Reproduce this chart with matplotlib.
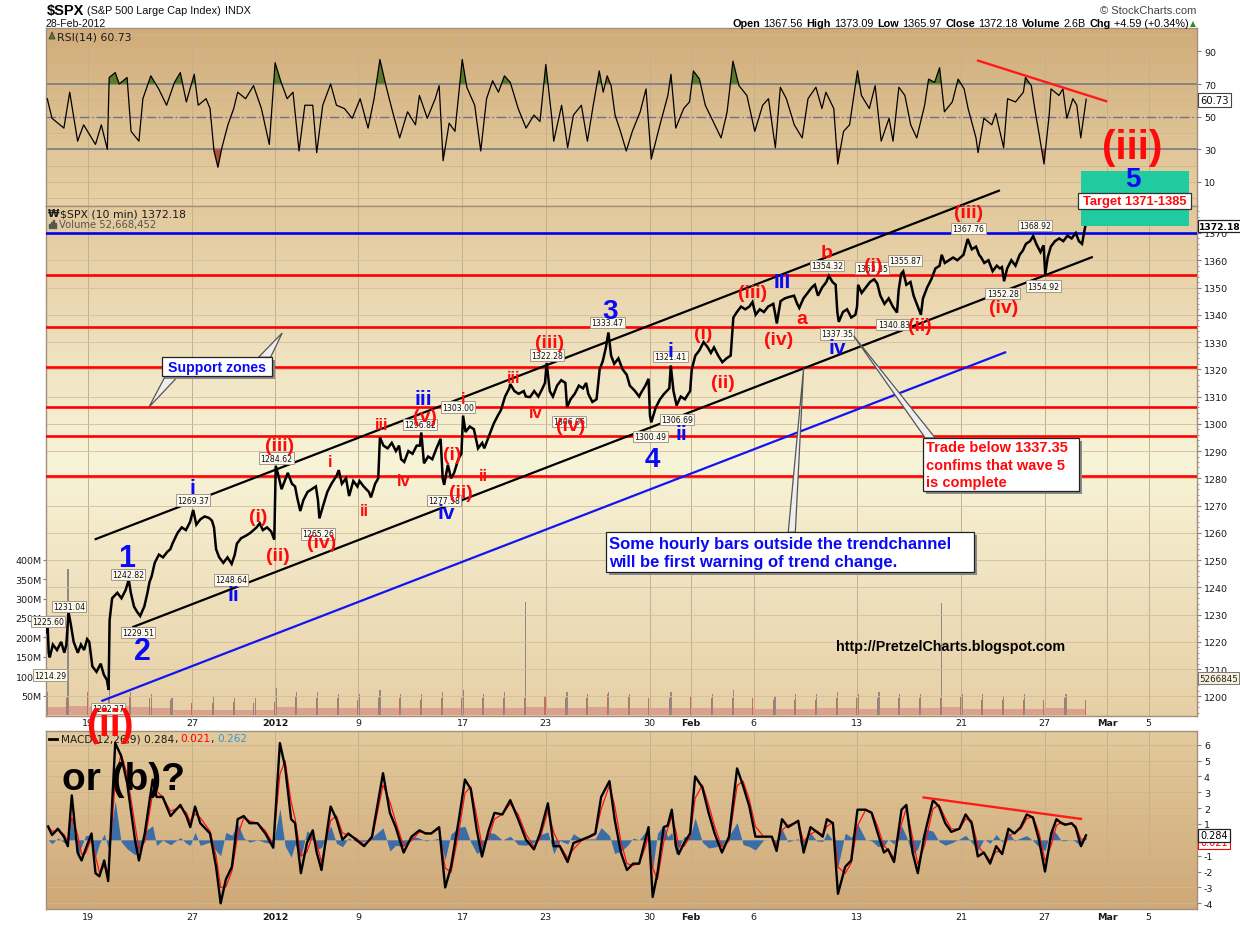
import numpy as np
import matplotlib
matplotlib.use("Agg")
import matplotlib.pyplot as plt
import matplotlib.colors as mcolors
from matplotlib.patches import Rectangle, Polygon
from matplotlib.lines import Line2D
from matplotlib.ticker import MultipleLocator

W, H = 1240, 928

# ---------------- data ----------------
# x axis is in trading days: 0 = 15-Dec-2011 open, 49 = 28-Feb-2012
day_ticks = [2, 7, 11, 15, 20, 24, 29, 31, 34, 39, 44, 48, 51, 53]
day_tick_labels = ["19", "27", "2012", "9", "17", "23", "30", "Feb", "6", "13", "21", "27", "Mar", "5"]
bold_day_labels = ["2012", "Feb", "Mar"]

price_points = [
    (0.00, 1223.6), (0.05, 1225.6), (0.10, 1216), (0.15, 1214.3), (0.30, 1219), (0.50, 1217), (0.70, 1220), (0.85, 1216), (0.95, 1219),
    (1.05, 1231.0), (1.15, 1227), (1.30, 1220), (1.50, 1216), (1.65, 1219), (1.80, 1217), (1.95, 1221),
    (2.05, 1220), (2.20, 1211), (2.40, 1209), (2.60, 1212), (2.75, 1208), (2.90, 1206), (2.98, 1202.4),
    (3.03, 1228), (3.15, 1236), (3.40, 1238), (3.60, 1236), (3.80, 1239), (3.95, 1242.8),
    (4.05, 1238), (4.20, 1233), (4.35, 1231), (4.50, 1229.5), (4.70, 1233), (4.85, 1238), (4.95, 1242),
    (5.05, 1244), (5.20, 1249), (5.40, 1252), (5.60, 1251), (5.80, 1253), (5.95, 1254),
    (6.05, 1256), (6.30, 1260), (6.50, 1262), (6.70, 1261), (6.90, 1264),
    (7.05, 1268.4), (7.20, 1263), (7.40, 1265), (7.60, 1266), (7.80, 1265.5), (7.95, 1264.5),
    (8.05, 1262), (8.15, 1254), (8.30, 1251), (8.50, 1249), (8.70, 1251), (8.90, 1248.6),
    (9.05, 1252), (9.15, 1256), (9.35, 1258), (9.60, 1259), (9.80, 1260), (9.95, 1261),
    (10.10, 1262), (10.25, 1263.5), (10.40, 1261), (10.60, 1262), (10.80, 1260.5), (10.95, 1257.5),
    (11.02, 1284.6), (11.15, 1281), (11.30, 1276), (11.45, 1279), (11.60, 1282), (11.80, 1278), (11.95, 1277),
    (12.05, 1273), (12.20, 1268), (12.35, 1272), (12.55, 1275), (12.75, 1276), (12.95, 1277),
    (13.05, 1272), (13.12, 1265.3), (13.30, 1270), (13.50, 1275), (13.70, 1278), (13.95, 1281),
    (14.05, 1283), (14.20, 1278), (14.40, 1280), (14.55, 1273.5), (14.75, 1279), (14.95, 1277),
    (15.05, 1279), (15.25, 1277), (15.50, 1275), (15.60, 1273), (15.80, 1278), (15.95, 1280),
    (16.03, 1295), (16.20, 1292), (16.40, 1291), (16.60, 1293), (16.80, 1290), (16.95, 1292),
    (17.05, 1287), (17.20, 1286), (17.40, 1290), (17.60, 1289), (17.80, 1292), (17.95, 1292),
    (18.02, 1296.8), (18.15, 1285.5), (18.35, 1288), (18.55, 1287), (18.75, 1291), (18.95, 1294.5),
    (19.05, 1280), (19.12, 1277.6), (19.30, 1285), (19.45, 1280), (19.60, 1282), (19.80, 1287), (19.95, 1289),
    (20.03, 1303.0), (20.15, 1297), (20.35, 1299), (20.55, 1298), (20.75, 1291), (20.95, 1293),
    (21.05, 1291), (21.30, 1296), (21.50, 1300), (21.70, 1303), (21.85, 1305), (21.97, 1308),
    (22.05, 1310), (22.25, 1313), (22.30, 1314.6), (22.50, 1312), (22.70, 1311), (22.95, 1312),
    (23.05, 1310), (23.25, 1309.8), (23.45, 1312), (23.65, 1310), (23.85, 1313), (23.97, 1315),
    (24.05, 1322.3), (24.20, 1312), (24.35, 1310), (24.55, 1314), (24.75, 1316), (24.95, 1315),
    (25.03, 1306.1), (25.20, 1309), (25.40, 1311), (25.60, 1314), (25.80, 1313), (25.95, 1315),
    (26.05, 1311), (26.25, 1308), (26.45, 1309), (26.60, 1320), (26.75, 1323), (26.90, 1328),
    (27.02, 1333.5), (27.15, 1325), (27.30, 1322), (27.50, 1324), (27.70, 1320), (27.90, 1318),
    (28.05, 1314), (28.30, 1312), (28.50, 1310), (28.60, 1311.5), (28.80, 1314), (28.95, 1316.5),
    (29.02, 1303), (29.08, 1300.5), (29.30, 1306), (29.50, 1309), (29.70, 1311), (29.95, 1313),
    (30.02, 1321.4), (30.15, 1312), (30.30, 1306.7), (30.50, 1310), (30.70, 1309), (30.95, 1312),
    (31.03, 1320), (31.20, 1325), (31.40, 1327), (31.60, 1330), (31.80, 1328), (31.95, 1326),
    (32.10, 1328), (32.30, 1325), (32.50, 1322.6), (32.70, 1324), (32.90, 1325),
    (33.03, 1339), (33.20, 1341), (33.40, 1343), (33.60, 1342), (33.80, 1343), (33.95, 1344.7),
    (34.10, 1340), (34.30, 1342), (34.50, 1341), (34.70, 1343), (34.95, 1344),
    (35.05, 1340), (35.12, 1336.8), (35.30, 1345), (35.50, 1346), (35.70, 1346.5), (35.95, 1347),
    (36.10, 1344), (36.20, 1342.5), (36.40, 1346), (36.60, 1348), (36.80, 1350), (36.95, 1351),
    (37.10, 1347), (37.30, 1350), (37.50, 1352), (37.62, 1354.3), (37.80, 1352), (37.95, 1351),
    (38.03, 1341), (38.10, 1337.4), (38.30, 1341), (38.50, 1342), (38.70, 1339), (38.90, 1340), (38.98, 1343),
    (39.03, 1351), (39.20, 1348), (39.40, 1350), (39.60, 1352), (39.80, 1353), (39.95, 1351.5),
    (40.10, 1347), (40.30, 1344), (40.50, 1346), (40.70, 1343), (40.90, 1340.8), (40.98, 1349),
    (41.10, 1355), (41.20, 1355.9), (41.35, 1351), (41.55, 1352), (41.70, 1347), (41.90, 1343),
    (42.05, 1340), (42.15, 1346), (42.35, 1350), (42.55, 1353), (42.75, 1357), (42.95, 1358),
    (43.05, 1362), (43.20, 1359), (43.40, 1360), (43.60, 1361), (43.80, 1360), (43.95, 1361),
    (44.10, 1362), (44.30, 1367.8), (44.50, 1364), (44.70, 1365), (44.85, 1362), (44.95, 1361),
    (45.10, 1359), (45.30, 1360), (45.50, 1356), (45.70, 1358), (45.85, 1357), (45.95, 1357.5),
    (46.05, 1352.3), (46.20, 1357), (46.40, 1360), (46.60, 1358), (46.80, 1362), (46.95, 1363.5),
    (47.10, 1366), (47.30, 1367), (47.45, 1368.9), (47.60, 1366), (47.80, 1363), (47.95, 1365.5),
    (48.03, 1354.9), (48.15, 1361), (48.30, 1365), (48.50, 1367), (48.70, 1368), (48.90, 1367),
    (49.10, 1369), (49.30, 1368), (49.50, 1370), (49.65, 1367), (49.80, 1366), (49.95, 1372.2),
]

rsi_points = [
    (0.03, 61), (0.26, 49), (0.83, 43), (1.11, 65), (1.49, 35), (1.78, 45), (2.35, 33), (2.63, 45), (2.92, 30),
    (3.01, 74), (3.30, 77), (3.49, 70), (3.87, 74), (4.06, 41), (4.44, 35), (4.63, 61), (5.01, 75), (5.39, 67),
    (5.77, 57), (6.15, 71), (6.43, 77), (6.72, 59), (7.10, 76), (7.29, 57), (7.67, 61), (7.86, 55), (8.05, 29),
    (8.24, 19), (8.43, 31), (8.72, 45), (9.00, 55), (9.19, 65), (9.57, 61), (9.95, 69), (10.33, 55), (10.71, 33),
    (10.99, 83), (11.28, 71), (11.57, 61), (11.85, 65), (12.14, 29), (12.42, 57), (12.80, 57), (12.99, 28),
    (13.28, 57), (13.66, 70), (13.94, 57), (14.32, 55), (14.70, 49), (15.08, 61), (15.46, 43), (15.75, 61),
    (16.03, 85), (16.32, 69), (16.60, 55), (16.98, 37), (17.36, 53), (17.74, 45), (17.93, 63), (18.31, 49),
    (18.69, 61), (18.88, 69), (19.07, 23), (19.36, 46), (19.64, 41), (19.99, 85), (20.21, 68), (20.59, 57),
    (20.88, 29), (21.16, 61), (21.45, 72), (21.73, 65), (22.02, 75), (22.30, 71), (22.68, 55), (23.06, 43),
    (23.44, 51), (23.73, 47), (24.01, 82), (24.30, 49), (24.39, 35), (24.77, 57), (25.06, 31), (25.34, 51),
    (25.72, 57), (26.01, 35), (26.29, 57), (26.58, 78), (26.77, 65), (26.96, 75), (27.15, 69), (27.34, 51),
    (27.60, 41), (27.88, 29), (28.17, 41), (28.55, 53), (28.83, 67), (29.08, 24), (29.50, 45), (29.88, 63),
    (30.03, 76), (30.26, 43), (30.64, 55), (30.92, 59), (31.11, 78), (31.40, 73), (31.68, 57), (32.06, 47),
    (32.44, 37), (32.73, 53), (33.01, 84), (33.30, 69), (33.68, 63), (34.06, 41), (34.44, 57), (34.72, 61),
    (35.05, 31), (35.29, 68), (35.58, 61), (35.96, 45), (36.34, 37), (36.62, 61), (37.00, 68), (37.29, 55),
    (37.48, 65), (37.86, 55), (38.05, 21), (38.33, 41), (38.62, 45), (39.00, 78), (39.19, 63), (39.57, 55),
    (39.85, 69), (40.14, 35), (40.52, 49), (40.71, 35), (40.99, 68), (41.28, 63), (41.56, 45), (41.85, 37),
    (42.23, 57), (42.42, 73), (42.71, 71), (42.95, 80), (43.18, 53), (43.56, 59), (43.84, 73), (44.13, 67),
    (44.32, 55), (44.70, 37), (44.80, 28), (45.08, 49), (45.46, 45), (45.65, 52), (46.03, 31), (46.22, 61),
    (46.60, 59), (46.98, 65), (47.08, 74), (47.36, 69), (47.55, 53), (47.74, 39), (47.97, 21), (48.22, 51),
    (48.31, 67), (48.69, 63), (48.88, 67), (49.07, 49), (49.36, 61), (49.55, 57), (49.74, 37), (50.00, 60.73),
]

macd_points = [
    (0.07, 0.84), (0.26, 0.3), (0.54, 0.7), (0.83, 0.2), (1.02, -0.4), (1.21, 2.8), (1.49, -0.8), (1.68, -1.3),
    (1.87, -0.6), (2.16, 0.4), (2.35, -2.1), (2.54, -2.3), (2.77, -1.3), (2.96, -2.6), (3.30, 6.1), (3.58, 5.3),
    (3.87, 3.6), (4.25, 0.0), (4.44, -1.3), (4.72, 0.4), (5.10, 3.8), (5.29, 2.7), (5.58, 2.7), (5.96, 1.5),
    (6.43, 2.2), (6.72, 1.5), (6.91, 0.8), (7.14, 2.1), (7.39, 1.05), (7.86, 0.4), (8.15, -1.7), (8.37, -4.0),
    (8.62, -2.5), (8.91, -1.7), (9.19, 1.3), (9.48, 1.5), (9.76, 1.05), (10.14, 1.05), (10.52, 0.4), (10.90, -0.5),
    (11.22, 6.1), (11.47, 4.6), (11.76, 1.3), (11.95, 1.05), (12.23, -2.1), (12.52, -0.2), (12.80, 0.6),
    (12.99, -0.8), (13.22, -1.9), (13.66, 2.1), (13.94, 1.3), (14.23, 0.0), (14.51, 0.4), (14.89, 0.0),
    (15.27, -0.4), (15.65, 0.2), (16.18, 4.2), (16.51, 1.7), (16.79, 0.8), (17.17, -0.8), (17.55, 0.2),
    (17.93, 0.6), (18.22, 0.4), (18.50, 0.4), (18.88, 0.8), (19.17, -3.0), (19.45, -1.7), (19.83, 1.3),
    (20.12, 3.8), (20.40, 3.2), (20.69, 0.6), (20.94, -1.05), (21.26, 0.6), (21.54, 1.7), (21.92, 1.6),
    (22.30, 2.5), (22.68, 1.3), (23.06, 0.0), (23.44, -0.6), (23.73, 0.4), (24.11, 2.3), (24.39, -0.4),
    (24.68, -0.4), (25.06, -1.4), (25.34, -0.2), (25.72, 0.0), (26.10, 0.2), (26.39, 0.4), (26.67, 2.7),
    (27.07, 3.7), (27.32, 1.3), (27.62, -0.8), (27.91, -1.9), (28.21, -1.5), (28.50, -1.5), (28.79, 0.0),
    (28.95, 0.8), (29.15, -3.6), (29.38, -2.1), (29.68, 0.8), (29.87, 0.9), (30.07, 1.9), (30.27, -0.4),
    (30.40, -0.9), (30.66, -0.2), (30.95, 0.4), (31.19, 4.0), (31.54, 3.3), (31.84, 1.7), (32.13, 0.4),
    (32.48, -0.8), (32.82, 0.2), (33.21, 4.5), (33.50, 3.4), (33.80, 2.1), (34.09, 0.2), (34.48, 0.2),
    (34.88, 0.2), (35.11, -0.7), (35.37, 1.3), (35.66, 0.8), (36.15, 1.2), (36.41, -0.8), (36.74, 0.8),
    (37.04, 0.5), (37.33, 0.2), (37.53, 1.3), (37.82, 1.05), (38.06, -3.4), (38.41, -1.7), (38.70, -1.3),
    (39.00, 1.9), (39.39, 1.9), (39.68, 1.7), (39.98, 0.4), (40.27, -0.8), (40.47, -0.6), (40.76, -1.4),
    (41.12, 1.9), (41.35, 2.2), (41.65, -0.8), (41.90, -2.1), (42.24, 0.4), (42.63, 2.5), (42.92, 2.1),
    (43.22, 1.05), (43.51, 0.5), (43.90, 0.7), (44.20, 1.6), (44.49, 1.05), (44.79, -1.05), (45.08, -0.8),
    (45.38, -1.5), (45.67, -0.4), (45.96, -0.9), (46.26, 0.7), (46.55, 0.4), (46.85, 0.8), (47.14, 1.6),
    (47.44, 1.4), (47.73, 0.0), (48.02, -2.0), (48.32, 0.4), (48.57, 1.3), (48.81, 1.05), (49.00, 0.95),
    (49.30, 1.05), (49.50, 0.75), (49.75, -0.4), (49.99, 0.284),
]

# volume per trading day (millions): opening-bar spike, typical bar, closing-bar spike
vol_open = [60, 375, 98, 100, 60, 55, 45, 45, 50, 45, 45,
            70, 60, 60, 55, 55, 65, 55, 55, 60,
            65, 55, 60, 290, 55, 60, 55, 60, 55, 60, 60,
            55, 55, 65, 55, 50, 55, 55, 60,
            55, 60, 55, 55, 288, 55, 55, 50, 55, 60, 55]
vol_mid = [20, 24, 22, 24, 20, 18, 14, 12, 13, 12, 12,
           20, 18, 18, 17, 17, 18, 17, 17, 18,
           19, 18, 18, 20, 17, 18, 20, 19, 17, 18, 19,
           18, 17, 18, 16, 16, 16, 18, 18,
           16, 17, 18, 18, 20, 16, 16, 16, 15, 17, 16]
vol_close = [45, 60, 50, 50, 45, 40, 30, 30, 35, 30, 35,
             50, 45, 45, 40, 45, 45, 40, 45, 45,
             45, 45, 45, 50, 45, 45, 55, 50, 45, 45, 50,
             45, 45, 45, 40, 40, 40, 45, 45,
             45, 45, 45, 45, 50, 40, 40, 40, 40, 45, 40]

support_levels = [1354.7, 1335.6, 1321.0, 1306.0, 1295.7, 1281.0]
resistance_level = 1370.0

# drawn trend lines (start day, start value, end day, end value)
channel_upper = (2.36, 1257.7, 45.8, 1385.5)
channel_lower = (4.17, 1225.5, 50.27, 1361.1)
base_line = (2.68, 1198.4, 46.1, 1326.2)
rsi_trend = (44.8, 84.3, 50.96, 59.5)
macd_trend = (42.18, 2.67, 49.75, 1.32)

price_tags = [
    ("1225.60", 0.06, 1227.5), ("1231.04", 1.07, 1233.0), ("1214.29", 0.16, 1207.8),
    ("1242.82", 3.91, 1244.8), ("1229.51", 4.39, 1223.5), ("1202.37", 2.95, 1195.6),
    ("1269.37", 7.03, 1272.0), ("1248.64", 8.88, 1242.7), ("1284.62", 11.06, 1287.4),
    ("1265.26", 13.04, 1259.6), ("1296.82", 17.95, 1299.7), ("1303.00", 19.79, 1306.1),
    ("1277.58", 19.10, 1271.8), ("1322.28", 24.07, 1325.2), ("1306.06", 25.11, 1300.8),
    ("1333.47", 26.98, 1337.2), ("1321.41", 30.00, 1324.6), ("1306.69", 30.32, 1301.5),
    ("1300.49", 29.04, 1295.3), ("1354.32", 37.53, 1358.0), ("1353.35", 39.70, 1357.1),
    ("1355.87", 41.30, 1359.9), ("1340.83", 40.74, 1336.4), ("1337.35", 38.01, 1333.0),
    ("1367.76", 44.34, 1371.7), ("1368.92", 47.55, 1372.7), ("1352.28", 45.98, 1347.9),
    ("1354.92", 47.95, 1350.5),
]

BLUE = "#0A0AF5"
RED = "#FF0A0A"
wave_labels = [
    ("1", 3.85, 1250.8, BLUE, 22), ("2", 4.60, 1216.7, BLUE, 22), ("3", 27.08, 1341.5, BLUE, 20),
    ("4", 29.15, 1287.1, BLUE, 20), ("5", 52.24, 1389.8, BLUE, 20),
    ("i", 7.03, 1276.7, BLUE, 15), ("ii", 8.98, 1237.2, BLUE, 15), ("iii", 18.11, 1309.1, BLUE, 15),
    ("iv", 19.23, 1267.5, BLUE, 15), ("i", 30.00, 1326.8, BLUE, 15), ("ii", 30.53, 1296.3, BLUE, 15),
    ("III", 35.37, 1352.2, BLUE, 15), ("iv", 38.01, 1328.1, BLUE, 15),
    ("(i)", 10.16, 1266.1, RED, 14), ("(ii)", 11.12, 1251.6, RED, 14), ("(iii)", 11.22, 1292.0, RED, 14),
    ("(iv)", 13.25, 1256.5, RED, 14), ("i", 13.62, 1286.1, RED, 12), ("ii", 15.30, 1268.1, RED, 12),
    ("iii", 16.11, 1299.6, RED, 12), ("iv", 17.18, 1279.1, RED, 12), ("(v)", 18.19, 1302.6, RED, 14),
    ("(i)", 19.53, 1288.9, RED, 14), ("(ii)", 19.94, 1274.9, RED, 14), ("i", 20.03, 1309.1, RED, 12),
    ("ii", 21.02, 1281.0, RED, 12), ("iii", 22.44, 1317.1, RED, 12), ("iv", 23.51, 1304.2, RED, 12),
    ("(iii)", 24.20, 1329.9, RED, 14), ("(iv)", 25.19, 1299.3, RED, 14), ("(i)", 31.60, 1333.0, RED, 14),
    ("(ii)", 32.53, 1315.2, RED, 14), ("(iii)", 33.95, 1348.3, RED, 14), ("(iv)", 35.22, 1331.1, RED, 14),
    ("a", 36.33, 1338.7, RED, 14), ("b", 37.53, 1362.9, RED, 14), ("(i)", 39.77, 1358.0, RED, 14),
    ("(ii)", 42.02, 1336.0, RED, 14), ("(iii)", 44.34, 1377.6, RED, 14), ("(iv)", 46.02, 1342.8, RED, 14),
    ("(iii)", 52.21, 1401.5, RED, 29),
]

price_t = np.array([p[0] for p in price_points])
price_v = np.array([p[1] for p in price_points])
rsi_t = np.array([p[0] for p in rsi_points])
rsi_v = np.array([p[1] for p in rsi_points])
macd_t = np.array([p[0] for p in macd_points])
macd_v = np.array([p[1] for p in macd_points])

# MACD signal line: continuous-time EMA of the MACD line
tau = 0.1
signal_v = [macd_v[0]]
for k in range(1, len(macd_v)):
    dt = macd_t[k] - macd_t[k - 1]
    s = (macd_v[k] - macd_v[k - 1]) / dt
    c = signal_v[-1] - macd_v[k - 1] + s * tau
    signal_v.append(macd_v[k] - s * tau + c * np.exp(-dt / tau))
signal_v = np.array(signal_v)
hist_v = macd_v - signal_v

# ---------------- figure ----------------
plt.rcParams["font.family"] = ["DejaVu Sans"]
plt.rcParams["axes.unicode_minus"] = False
fig = plt.figure(figsize=(12.4, 9.28), dpi=100)
fig.patch.set_facecolor("white")
XLIM = (-0.03, 55.33)
SANS = ["Liberation Sans", "DejaVu Sans"]


def rect(top, bottom, left=46, right=1197):
    return [left / W, 1 - bottom / H, (right - left) / W, (bottom - top) / H]


def gradient(ax, stops):
    n = 256
    pos = np.linspace(0, 1, n)
    cols = np.array([mcolors.to_rgb(c) for _, c in stops])
    ps = [p for p, _ in stops]
    img = np.zeros((n, 2, 3))
    for k in range(3):
        img[:, :, k] = np.interp(pos, ps, cols[:, k])[:, None]
    ax.imshow(img, extent=[0, 1, 0, 1], transform=ax.transAxes, aspect="auto",
              zorder=-10, origin="upper", interpolation="bilinear")


def style_axes(ax):
    for sp in ax.spines.values():
        sp.set_color("#A48E7E")
        sp.set_linewidth(1.0)
    ax.set_xlim(*XLIM)
    ax.set_xticks(day_ticks)
    ax.grid(axis="x", color="#C4B08F", lw=0.7, zorder=0)
    ax.yaxis.tick_right()
    ax.tick_params(axis="y", which="major", length=3, width=0.8, color="#8C7A6C",
                   labelsize=6.8, pad=2, labelcolor="#1A1A1A")
    ax.tick_params(axis="x", length=0)
    ax.set_axisbelow(True)


def ftext(x, y, s, **kw):
    return fig.text(x / W, 1 - y / H, s, **kw)


# ---- RSI panel ----
ax_r = fig.add_axes(rect(29, 207))
gradient(ax_r, [(0, "#D1AC79"), (1, "#E7D1A6")])
style_axes(ax_r)
ax_r.set_ylim(-4.7, 104.3)
ax_r.set_yticks([10, 30, 50, 70, 90])
ax_r.yaxis.set_minor_locator(MultipleLocator(10))
ax_r.tick_params(axis="y", which="minor", length=0)
ax_r.grid(axis="y", which="both", color="#CBB693", lw=0.6)
ax_r.tick_params(axis="x", labelbottom=False)
ax_r.axhline(70, color="#858585", lw=1.4, zorder=2)
ax_r.axhline(30, color="#858585", lw=1.4, zorder=2)
ax_r.axhline(50, color="#6F7388", lw=1.0, ls=(0, (7, 2, 1, 2)), zorder=2)
ax_r.fill_between(rsi_t, rsi_v, 70, where=rsi_v > 70, interpolate=True, color="#5C7A2C", lw=0, zorder=3)
ax_r.fill_between(rsi_t, rsi_v, 30, where=rsi_v < 30, interpolate=True, color="#B0503A", lw=0, zorder=3)
ax_r.plot(rsi_t, rsi_v, color="black", lw=0.9, zorder=4)
ax_r.plot(rsi_trend[0::2], rsi_trend[1::2], color="#FF1A1A", lw=1.7, zorder=5)

# ---- volume (background of price panel) ----
ax_v = fig.add_axes(rect(207, 717))
gradient(ax_v, [(0, "#E2C89C"), (0.5, "#F8F4D8"), (1, "#E6CFA5")])
ax_v.set_xlim(*XLIM)
ax_v.set_ylim(-2.3, 1310)
days = np.arange(len(vol_mid))
ax_v.bar(days + 0.5, vol_mid, width=1.0, color="#D59486", alpha=0.75, lw=0, zorder=1)
ax_v.bar(days + 0.03, vol_open, width=0.06, color="#8E8984", lw=0, zorder=2)
ax_v.bar(days + 0.97, vol_close, width=0.05, color="#C76C62", lw=0, zorder=2)
ax_v.set_yticks(np.arange(50, 401, 50))
ax_v.set_yticklabels([f"{int(v)}M" for v in np.arange(50, 401, 50)])
ax_v.tick_params(axis="y", left=True, right=False, length=2, width=0.8, color="#8C7A6C",
                 labelsize=6.8, pad=1, labelcolor="#1A1A1A")
ax_v.set_xticks([])
for sp in ax_v.spines.values():
    sp.set_visible(False)

# ---- price panel ----
ax_p = fig.add_axes(rect(207, 717))
ax_p.patch.set_alpha(0)
style_axes(ax_p)
ax_p.set_ylim(1192.8, 1379.9)
ax_p.yaxis.set_major_locator(MultipleLocator(10))
ax_p.yaxis.set_minor_locator(MultipleLocator(2))
ax_p.tick_params(axis="y", which="minor", length=1.5, width=0.6, color="#8C7A6C")
ax_p.grid(axis="y", which="major", color="#D2BF9D", lw=0.6)
ax_p.set_xticklabels(day_tick_labels)
ax_p.tick_params(axis="x", labelsize=6.8, pad=1.5, labelcolor="#1A1A1A")
for lab in ax_p.get_xticklabels():
    if lab.get_text() in bold_day_labels:
        lab.set_fontweight("bold")

for lvl in support_levels:
    ax_p.axhline(lvl, color="#FF0000", lw=1.9, zorder=3)
ax_p.axhline(resistance_level, color="#0000EE", lw=1.9, zorder=3)

ax_p.plot(price_t, price_v, color="black", lw=1.8, zorder=4, solid_joinstyle="miter")
ax_p.plot(channel_upper[0::2], channel_upper[1::2], color="black", lw=1.6, zorder=5, clip_on=False)
ax_p.plot(channel_lower[0::2], channel_lower[1::2], color="black", lw=1.6, zorder=5)
ax_p.plot(base_line[0::2], base_line[1::2], color="#1414F0", lw=1.6, zorder=5)

# target zone
ax_p.add_patch(Rectangle((49.73, 1372.5), 54.95 - 49.73, 1392.9 - 1372.5, color="#1FCB9F",
                         lw=0, zorder=6, clip_on=False))
ax_p.add_patch(Rectangle((49.6, 1378.8), 55.05 - 49.6, 1384.6 - 1378.8, fc="white", ec="#333333",
                         lw=0.9, zorder=7, clip_on=False))
ax_p.text(52.33, 1381.7, "Target 1371-1385", color=RED, fontsize=9.3, fontweight="bold",
          family=SANS, ha="center", va="center", zorder=8, clip_on=False)

# price tags
for s, d, p in price_tags:
    ax_p.text(d, p, s, fontsize=5.6, ha="center", va="center", color="#111111", zorder=9,
              bbox=dict(boxstyle="square,pad=0.15", fc="#FCF9EF", ec="#A8988A", lw=0.7))

# wave labels
for s, d, p, c, fs in wave_labels:
    ax_p.text(d, p, s, color=c, fontsize=fs, fontweight="bold", family=SANS,
              ha="center", va="center", zorder=10, clip_on=False)

# callouts
shadow = "#8A8A8A"


def callout_box(x0, x1, y0, y1):
    dx, dy = 0.14, -1.1
    ax_p.add_patch(Rectangle((x0 + dx, y0 + dy), x1 - x0, y1 - y0, fc=shadow, ec="none", zorder=11))
    ax_p.add_patch(Rectangle((x0, y0), x1 - x0, y1 - y0, fc="white", ec="#222222", lw=0.9, zorder=12))


def wedge(pts):
    ax_p.add_patch(Polygon(pts, closed=True, fc="#EEEEEE", ec="#555555", lw=0.9, zorder=11))


wedge([(10.19, 1324.4), (10.77, 1324.4), (11.33, 1333.3)])
wedge([(5.72, 1317.65), (6.35, 1317.65), (4.92, 1306.1)])
callout_box(5.56, 10.85, 1317.65, 1324.4)
ax_p.text(8.2, 1321.0, "Support zones", color=BLUE, fontsize=10.2, fontweight="bold",
          family=SANS, ha="center", va="center", zorder=13)

wedge([(35.67, 1260.2), (36.01, 1260.2), (36.41, 1320.5)])
callout_box(26.91, 44.62, 1245.5, 1260.2)
ax_p.text(27.03, 1252.8, "Some hourly bars outside the trendchannel\nwill be first warning of trend change.",
          color=BLUE, fontsize=12, fontweight="bold", family=SANS, ha="left", va="center",
          linespacing=1.25, zorder=13)

wedge([(42.26, 1294.8), (42.74, 1294.8), (38.81, 1332.3)])
callout_box(42.16, 49.66, 1275.2, 1294.8)
ax_p.text(42.31, 1285.0, "Trade below 1337.35\nconfims that wave 5\nis complete",
          color=RED, fontsize=10.5, fontweight="bold", family=SANS, ha="left", va="center",
          linespacing=1.3, zorder=13)

ax_p.text(43.5, 1218.6, "http://PretzelCharts.blogspot.com", color="black", fontsize=10.3,
          fontweight="bold", family=SANS, ha="center", va="center", zorder=13)

# ---- MACD panel ----
ax_m = fig.add_axes(rect(732, 910))
gradient(ax_m, [(0, "#E3CA9C"), (1, "#CFA877")])
style_axes(ax_m)
ax_m.set_ylim(-4.36, 6.86)
ax_m.yaxis.set_major_locator(MultipleLocator(1))
ax_m.grid(axis="y", color="#CDB690", lw=0.6)
ax_m.set_xticklabels(day_tick_labels)
ax_m.tick_params(axis="x", labelsize=6.8, pad=2, labelcolor="#1A1A1A")
for lab in ax_m.get_xticklabels():
    if lab.get_text() in bold_day_labels:
        lab.set_fontweight("bold")
ax_m.fill_between(macd_t, hist_v, 0, color="#3B6EA6", lw=0, zorder=2)
ax_m.plot(macd_t, signal_v, color="#FF1010", lw=0.9, zorder=3)
ax_m.plot(macd_t, macd_v, color="black", lw=1.7, zorder=4)
ax_m.plot(macd_trend[0::2], macd_trend[1::2], color="#FF1A1A", lw=1.7, zorder=5)

# ---------------- header & labels ----------------
renderer = fig.canvas.get_renderer()


def text_runs(x_px, y_px, runs, align="left"):
    arts = []
    total = 0
    for s, weight, color, gap, size, fam in runs:
        t = fig.text(0, 1 - y_px / H, s, fontsize=size, fontweight=weight, color=color,
                     family=fam, va="center", ha="left")
        w = t.get_window_extent(renderer).width
        arts.append((t, w, gap))
        total += w + gap
    x = x_px if align == "left" else x_px - total
    for t, w, gap in arts:
        x += gap
        t.set_x(x / W)
        x += w


text_runs(47, 11, [("$SPX", "bold", "black", 0, 10.5, SANS),
                   ("(S&P 500 Large Cap Index)", "normal", "#111111", 3, 7.8, SANS),
                   ("INDX", "normal", "#111111", 4, 7.8, SANS)])
ftext(46, 24, "28-Feb-2012", fontsize=7.6, family=SANS, color="#111111", va="center")
ftext(1196, 11, "\u00a9 StockCharts.com", fontsize=8, family=SANS, color="#444444", va="center", ha="right")
g = 4
text_runs(1196, 24, [("Open", "bold", "black", 0, 7.8, SANS), ("1367.56", "normal", "black", 3, 7.8, SANS),
                     ("High", "bold", "black", g, 7.8, SANS), ("1373.09", "normal", "black", 3, 7.8, SANS),
                     ("Low", "bold", "black", g, 7.8, SANS), ("1365.97", "normal", "black", 3, 7.8, SANS),
                     ("Close", "bold", "black", g, 7.8, SANS), ("1372.18", "normal", "black", 3, 7.8, SANS),
                     ("Volume", "bold", "black", g, 7.8, SANS), ("2.6B", "normal", "black", 3, 7.8, SANS),
                     ("Chg", "bold", "black", g, 7.8, SANS), ("+4.59 (+0.34%)", "normal", "black", 3, 7.8, SANS),
                     ("\u25b2", "normal", "#2E8B2E", 2, 5.5, ["DejaVu Sans"])], align="right")

# panel legends
fig.add_artist(Polygon([(49 / W, 1 - 40 / H), (52 / W, 1 - 33 / H), (55 / W, 1 - 40 / H)],
                       closed=True, fc="#5C7A2C", ec="#333333", lw=0.5, transform=fig.transFigure))
ftext(57, 37, "RSI(14) 60.73", fontsize=7.8, color="#1A1A1A", va="center")
ftext(48, 214.5, "\u20a9", fontsize=7.5, color="#1A1A1A", va="center", fontweight="bold")
ftext(60, 214.5, "$SPX (10 min) 1372.18", fontsize=7.8, color="#1A1A1A", va="center")
for i, hh in enumerate([4, 6, 8, 5]):
    fig.add_artist(Rectangle(((49 + 2 * i) / W, 1 - 229 / H), 1.4 / W, hh / H, color="#555555",
                             transform=fig.transFigure))
ftext(59, 224.7, "Volume 52,668,452", fontsize=7.2, color="#555555", va="center")
fig.add_artist(Line2D([49 / W, 57 / W], [1 - 739.5 / H] * 2, color="black", lw=2, transform=fig.transFigure))
text_runs(61, 739.5, [("MACD(12,26,9) 0.284", "normal", "#1A1A1A", 0, 7.6, ["DejaVu Sans"]),
                      (",", "normal", "#1A1A1A", 0, 7.6, ["DejaVu Sans"]),
                      ("0.021", "normal", "#FF0000", 3, 7.6, ["DejaVu Sans"]),
                      (",", "normal", "#1A1A1A", 0, 7.6, ["DejaVu Sans"]),
                      ("0.262", "normal", "#3399D6", 3, 7.6, ["DejaVu Sans"])])

# right-hand value markers
ftext(1200, 100.5, "60.73", fontsize=7.2, color="#111111", va="center", ha="left",
      bbox=dict(boxstyle="square,pad=0.2", fc="white", ec="#444444", lw=0.8))
ftext(1199, 227, "1372.18", fontsize=6.6, fontweight="bold", color="black", va="center", ha="left",
      bbox=dict(boxstyle="square,pad=0.15", fc="white", ec="#222222", lw=0.9), zorder=6)
ftext(1199, 679, "5266845", fontsize=6.3, color="#222222", va="center", ha="left",
      bbox=dict(boxstyle="square,pad=0.12", fc="#F6EFDC", ec="#777777", lw=0.7))
ftext(1200, 843, "0.021", fontsize=7.0, color="#FF0000", va="center", ha="left",
      bbox=dict(boxstyle="square,pad=0.2", fc="white", ec="#FF0000", lw=0.8))
ftext(1200, 836.5, "0.284", fontsize=7.0, color="black", va="center", ha="left", zorder=6,
      bbox=dict(boxstyle="square,pad=0.2", fc="white", ec="#222222", lw=0.9))

# big overlay notes
ftext(109.5, 726, "(ii)", fontsize=28, fontweight="bold", color=RED, family=SANS,
      ha="center", va="center", zorder=20)
ftext(123.5, 780, "or (b)?", fontsize=28, fontweight="bold", color="black", family=SANS,
      ha="center", va="center", zorder=20)

fig.savefig("out.png", dpi=100)
